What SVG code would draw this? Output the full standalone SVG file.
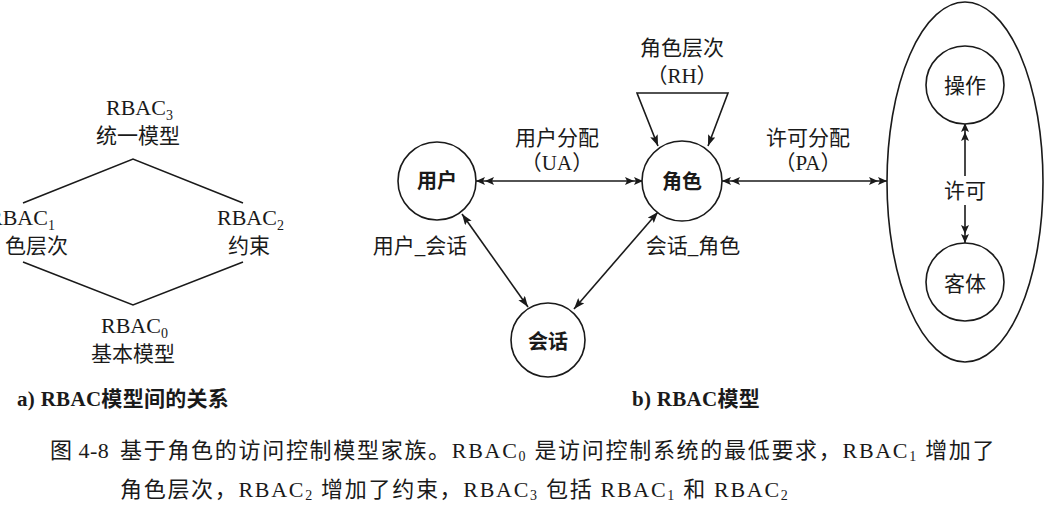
<svg xmlns="http://www.w3.org/2000/svg" width="1051" height="515" viewBox="0 0 1051 515">
<style>
  .ln{fill:none;stroke:#1a1a1a;stroke-width:1.6}
  .nd{fill:#fff;stroke:#1a1a1a;stroke-width:1.6}
  .t{font-family:"Liberation Serif","Noto Sans CJK SC",serif;fill:#1a1a1a;font-size:21px}
  .lab{font-family:"Liberation Serif","Noto Sans CJK SC",serif;fill:#1a1a1a;font-size:22px}
  .nl{font-family:"Noto Sans CJK SC","Liberation Serif",sans-serif;fill:#1a1a1a;font-size:20px;font-weight:bold}
  .cap{font-family:"Liberation Serif","Noto Sans CJK SC",serif;fill:#1a1a1a;font-size:21px;font-weight:bold;letter-spacing:0.3px}
  .fig{font-family:"Liberation Serif","Noto Sans CJK SC",serif;fill:#1a1a1a;font-size:22px;letter-spacing:1.7px}
</style>
<defs>
  <marker id="dbl" viewBox="0 0 18 8" refX="18" refY="4" markerWidth="18" markerHeight="8" markerUnits="userSpaceOnUse" orient="auto-start-reverse">
    <path d="M0,0 L9,4 L0,8 L2,4 Z M9,0 L18,4 L9,8 L11,4 Z" fill="#1a1a1a"/>
  </marker>
  <marker id="sgl" viewBox="0 0 11 8" refX="11" refY="4" markerWidth="11" markerHeight="8" markerUnits="userSpaceOnUse" orient="auto-start-reverse">
    <path d="M0,0 L11,4 L0,8 L2,4 Z" fill="#1a1a1a"/>
  </marker>
</defs>
<rect width="1051" height="515" fill="#fff"/>

<!-- Left: lattice -->
<g id="lattice-lines">
  <path class="ln" d="M23,203 L133,159 L243,203"/>
  <path class="ln" d="M23,262 L133,305 L243,262"/>
</g>
<g id="rbac3">
  <text class="lab" x="106" y="115">RBAC<tspan font-size="14" dy="5">3</tspan></text>
  <text class="t" x="138" y="143" text-anchor="middle">统一模型</text>
</g>
<g id="rbac1">
  <text class="lab" x="-12" y="225">RBAC<tspan font-size="14" dy="5">1</tspan></text>
  <text class="t" x="5" y="253">色层次</text>
</g>
<g id="rbac2">
  <text class="lab" x="217" y="225">RBAC<tspan font-size="14" dy="5">2</tspan></text>
  <text class="t" x="249" y="253" text-anchor="middle">约束</text>
</g>
<g id="rbac0">
  <text class="lab" x="101" y="333">RBAC<tspan font-size="14" dy="5">0</tspan></text>
  <text class="t" x="133" y="361" text-anchor="middle">基本模型</text>
</g>

<!-- Right: RBAC model -->
<g id="connectors">
  <path class="ln" d="M476,181 L643,181" marker-start="url(#dbl)" marker-end="url(#dbl)"/>
  <path class="ln" d="M722,181 L887,181" marker-start="url(#dbl)" marker-end="url(#dbl)"/>
  <path class="ln" d="M658,146 L637,93 L728,93 L708,146" marker-start="url(#sgl)" marker-end="url(#sgl)"/>
  <path class="ln" d="M462,214 L528,307" marker-start="url(#sgl)" marker-end="url(#sgl)"/>
  <path class="ln" d="M658,212 L574,309" marker-start="url(#sgl)" marker-end="url(#sgl)"/>
  <path class="ln" d="M965,176 L965,123" marker-end="url(#dbl)"/>
  <path class="ln" d="M965,205 L965,243" marker-end="url(#dbl)"/>
</g>
<g id="labels">
  <text class="t" x="682" y="55" text-anchor="middle">角色层次</text>
  <text class="t" x="682" y="83" text-anchor="middle">（RH）</text>
  <text class="t" x="557" y="145" text-anchor="middle">用户分配</text>
  <text class="t" x="557" y="170" text-anchor="middle">（UA）</text>
  <text class="t" x="808" y="145" text-anchor="middle">许可分配</text>
  <text class="t" x="808" y="170" text-anchor="middle">（PA）</text>
  <text class="t" x="420" y="253" text-anchor="middle">用户_会话</text>
  <text class="t" x="693" y="253" text-anchor="middle">会话_角色</text>
</g>
<g id="user">
  <circle class="nd" cx="437" cy="181" r="39"/>
  <text class="nl" x="437" y="188" text-anchor="middle">用户</text>
</g>
<g id="role">
  <circle class="nd" cx="682" cy="181" r="40"/>
  <text class="nl" x="682" y="189" text-anchor="middle">角色</text>
</g>
<g id="session">
  <circle class="nd" cx="548" cy="340" r="37"/>
  <text class="nl" x="548" y="349" text-anchor="middle">会话</text>
</g>
<g id="permission">
  <ellipse class="ln" cx="965" cy="182" rx="78" ry="180"/>
  <text class="t" x="965" y="198" text-anchor="middle">许可</text>
</g>
<g id="operation">
  <circle class="nd" cx="965" cy="85" r="39"/>
  <text class="t" x="965" y="93" text-anchor="middle">操作</text>
</g>
<g id="object">
  <circle class="nd" cx="965" cy="282" r="39"/>
  <text class="t" x="965" y="291" text-anchor="middle">客体</text>
</g>

<!-- Captions -->
<g id="captions">
  <text class="cap" x="17" y="406">a) RBAC模型间的关系</text>
  <text class="cap" x="632" y="406">b) RBAC模型</text>
  <text class="fig" x="50" y="458" style="letter-spacing:0.5px">图 4-8</text>
  <text class="fig" x="120" y="458">基于角色的访问控制模型家族。RBAC<tspan font-size="14" dy="3">0</tspan><tspan dy="-3"> 是访问控制系统的最低要求，RBAC</tspan><tspan font-size="14" dy="3">1</tspan><tspan dy="-3"> 增加了</tspan></text>
  <text class="fig" x="120" y="497">角色层次，RBAC<tspan font-size="14" dy="3">2</tspan><tspan dy="-3"> 增加了约束，RBAC</tspan><tspan font-size="14" dy="3">3</tspan><tspan dy="-3"> 包括 RBAC</tspan><tspan font-size="14" dy="3">1</tspan><tspan dy="-3"> 和 RBAC</tspan><tspan font-size="14" dy="3">2</tspan></text>
</g>
</svg>
